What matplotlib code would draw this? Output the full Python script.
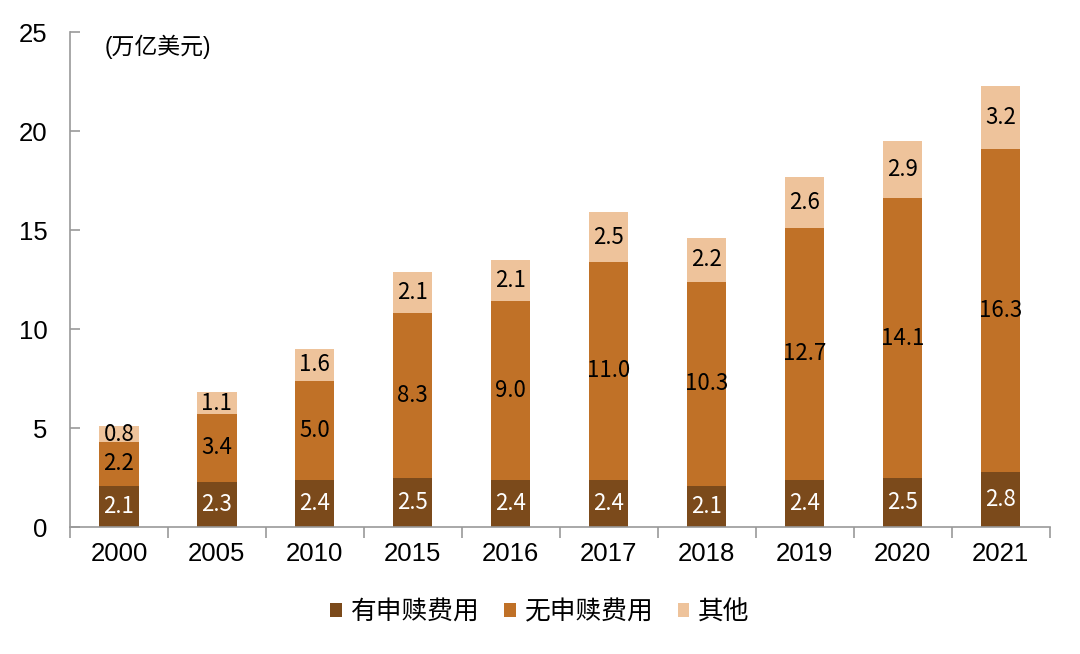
import matplotlib
matplotlib.use("Agg")
import matplotlib.pyplot as plt
import numpy as np

plt.rcParams['font.family'] = ['Liberation Sans', 'Noto Sans CJK SC', 'DejaVu Sans']

years = ['2000', '2005', '2010', '2015', '2016', '2017', '2018', '2019', '2020', '2021']
with_redemption = [2.1, 2.3, 2.4, 2.5, 2.4, 2.4, 2.1, 2.4, 2.5, 2.8]
without_redemption = [2.2, 3.4, 5.0, 8.3, 9.0, 11.0, 10.3, 12.7, 14.1, 16.3]
other = [0.8, 1.1, 1.6, 2.1, 2.1, 2.5, 2.2, 2.6, 2.9, 3.2]
series_names = ['有申赎费用', '无申赎费用', '其他']
colors = ['#7B4A1B', '#C07127', '#EEC39B']
label_colors = ['white', 'black', 'black']

fig = plt.figure(figsize=(10.8, 6.54), dpi=100)
ax = fig.add_axes([0.0648, 0.194, 0.907, 0.757])

x = np.arange(len(years))
bottom = np.zeros(len(years))
series = [with_redemption, without_redemption, other]
for vals, name, col, lc in zip(series, series_names, colors, label_colors):
    vals = np.array(vals)
    ax.bar(x, vals, 0.4, bottom=bottom, color=col, label=name, zorder=2)
    for xi, b, v in zip(x, bottom, vals):
        ax.text(xi, b + v / 2, f'{v:.1f}', ha='center', va='center', color=lc,
                fontsize=16, family=['Noto Sans CJK SC'], zorder=3)
    bottom = bottom + vals

ax.set_xlim(-0.5, len(years) - 0.5)
ax.set_ylim(0, 25)
ax.set_yticks([0, 5, 10, 15, 20, 25])
ax.set_xticks(x)
ax.set_xticklabels(years)
ax.set_xticks(np.arange(len(years) + 1) - 0.5, minor=True)

for s in ['top', 'right']:
    ax.spines[s].set_visible(False)
for s in ['left', 'bottom']:
    ax.spines[s].set_color('#999999')
    ax.spines[s].set_linewidth(1.2)

ax.tick_params(axis='y', direction='in', length=7, color='#999999', labelsize=18.5, pad=16, width=1.2)
ax.tick_params(axis='x', which='major', length=0, labelsize=18.5, pad=11)
ax.tick_params(axis='x', which='minor', direction='out', length=8, color='#999999', width=1.2)

ax.text(0.035, 0.97, '(万亿美元)', transform=ax.transAxes, fontsize=16.5, va='center', ha='left')

handles, labels = ax.get_legend_handles_labels()
fig.legend(handles, labels, loc='center', bbox_to_anchor=(0.5, 0.064), ncol=3, frameon=False,
           fontsize=18.5, handlelength=0.45, handleheight=0.45, handletextpad=0.35, columnspacing=0.95)

fig.savefig('out.png', dpi=100)
